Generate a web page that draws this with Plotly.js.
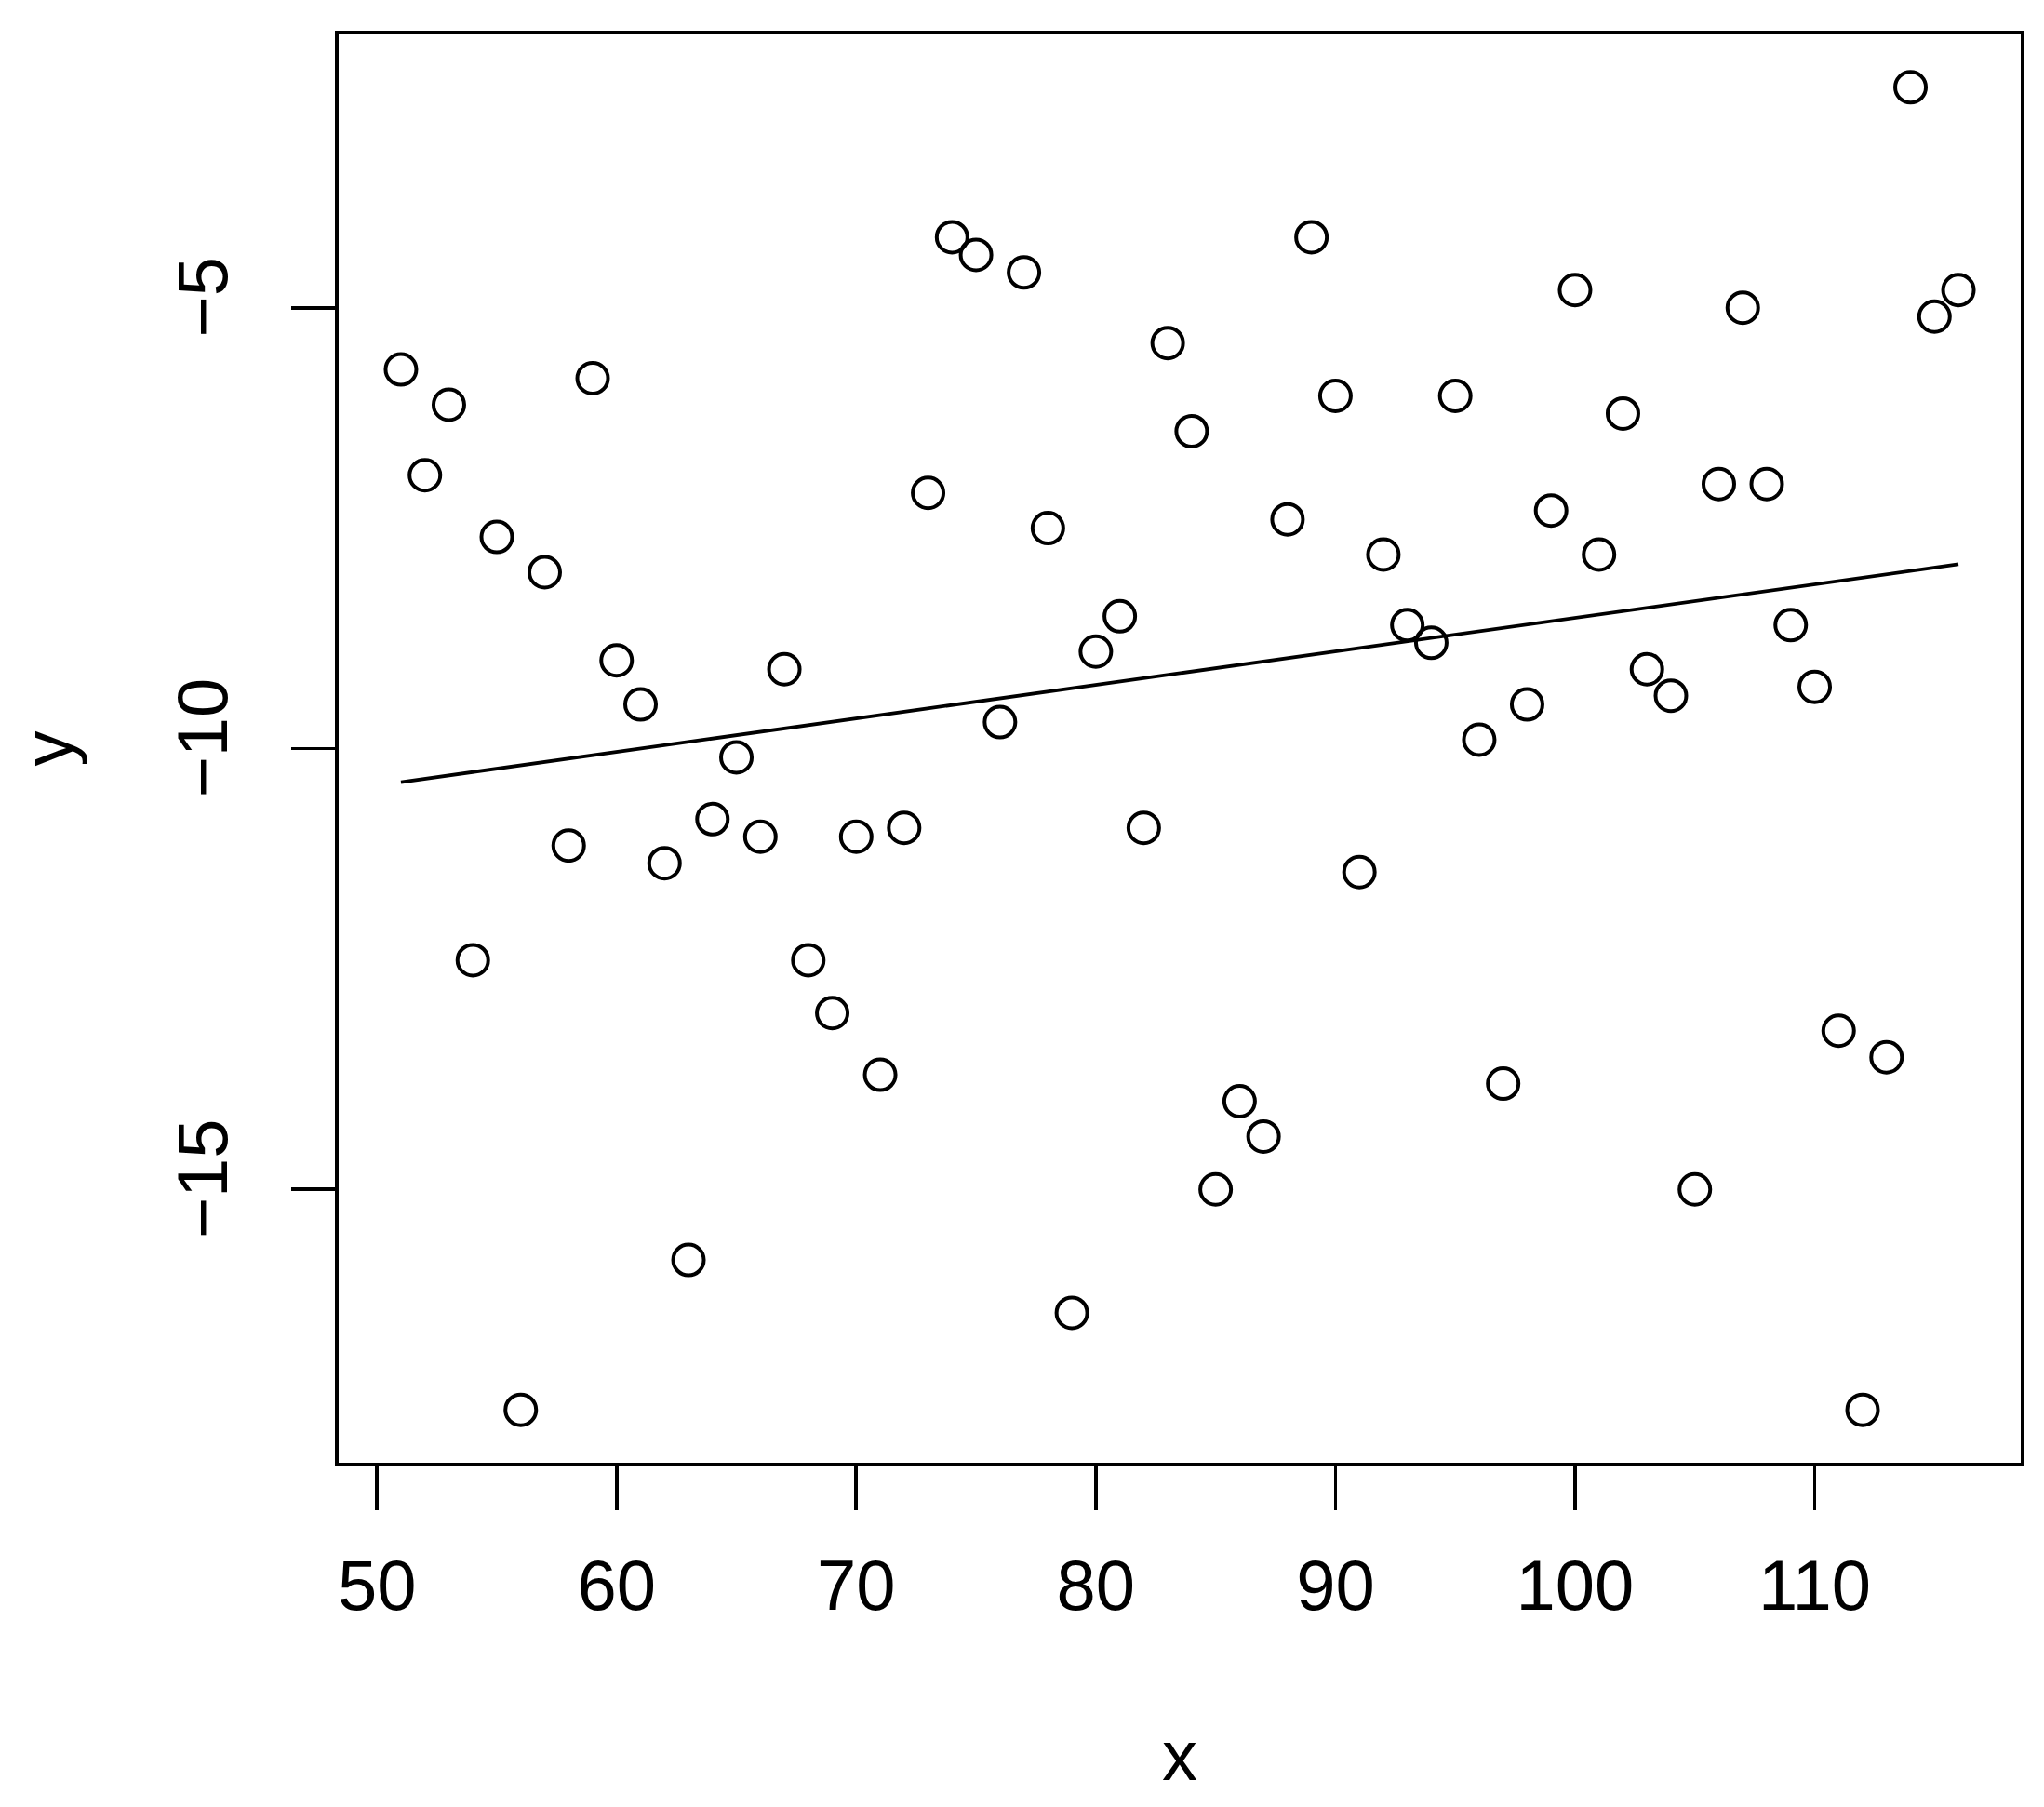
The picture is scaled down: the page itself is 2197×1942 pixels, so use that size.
<!DOCTYPE html>
<html>
<head>
<meta charset="utf-8">
<script src="https://cdn.plot.ly/plotly-3.0.1.min.js"></script>
<style>html,body{margin:0;padding:0;background:#fff;}#chart{width:2197px;height:1942px;}</style>
</head>
<body>
<div id="chart"></div>
<script>
// Data
const xValues = [51,52,53,54,55,56,57,58,59,60,61,62,63,64,65,66,67,68,69,70,71,72,73,74,75,76,77,78,79,80,81,82,83,84,85,86,87,88,89,90,91,92,93,94,95,96,97,98,99,100,101,102,103,104,105,106,107,108,109,110,111,112,113,114,115,116];
const yValues = [-5.7,-6.9,-6.1,-12.4,-7.6,-17.5,-8.0,-11.1,-5.8,-9.0,-9.5,-11.3,-15.8,-10.8,-10.1,-11.0,-9.1,-12.4,-13.0,-11.0,-13.7,-10.9,-7.1,-4.2,-4.4,-9.7,-4.6,-7.5,-16.4,-8.9,-8.5,-10.9,-5.4,-6.4,-15.0,-14.0,-14.4,-7.4,-4.2,-6.0,-11.4,-7.8,-8.6,-8.8,-6.0,-9.9,-13.8,-9.5,-7.3,-4.8,-7.8,-6.2,-9.1,-9.4,-15.0,-7.0,-5.0,-7.0,-8.6,-9.3,-13.2,-17.5,-13.5,-2.5,-5.1,-4.8];
// fitted line at its two ends
const fitX = [51, 116];
const fitY = [-10.38, -7.91];
const xTicks = [50,60,70,80,90,100,110];
const yTicks = [-15,-10,-5];
const xLabel = "x";
const yLabel = "y";

// R-style axis ranges: data range extended by 4%
const xmin = Math.min(...xValues), xmax = Math.max(...xValues);
const ymin = Math.min(...yValues), ymax = Math.max(...yValues);
const xr = [xmin - 0.04*(xmax-xmin), xmax + 0.04*(xmax-xmin)];
const yr = [ymin - 0.04*(ymax-ymin), ymax + 0.04*(ymax-ymin)];

const font = {family: "Liberation Sans, Arial, Helvetica, sans-serif", color: "#000", size: 76};

const traces = [
  {x: xValues, y: yValues, type: "scatter", mode: "markers",
   marker: {symbol: "circle-open", size: 33, color: "#000", line: {width: 4, color: "#000"}},
   hoverinfo: "x+y", showlegend: false},
  {x: fitX, y: fitY, type: "scatter", mode: "lines",
   line: {color: "#000", width: 3.8}, hoverinfo: "skip", showlegend: false}
];

const axisCommon = {
  showgrid: false, zeroline: false, showline: true, mirror: true,
  linecolor: "#000", linewidth: 3.8, ticks: "outside", ticklen: 47, tickwidth: 3.8,
  tickcolor: "#000", tickfont: font, automargin: false
};

const layout = {
  width: 2197, height: 1942,
  margin: {l: 364, r: 25, t: 37, b: 370, pad: 0},
  paper_bgcolor: "#fff", plot_bgcolor: "#fff",
  font: font,
  xaxis: Object.assign({}, axisCommon, {
    range: xr, tickmode: "array", tickvals: xTicks, ticktext: xTicks.map(String),
    ticklabelstandoff: 16,
    title: {text: xLabel, font: font, standoff: 116}
  }),
  yaxis: Object.assign({}, axisCommon, {
    range: yr, tickmode: "array", tickvals: yTicks, ticktext: yTicks.map(v => String(v).replace("-", "\u2212")),
    tickangle: -90, ticklabelstandoff: 39,
    title: {text: yLabel, font: font, standoff: 72}
  })
};

Plotly.newPlot("chart", traces, layout, {staticPlot: true, displayModeBar: false});
</script>
</body>
</html>
